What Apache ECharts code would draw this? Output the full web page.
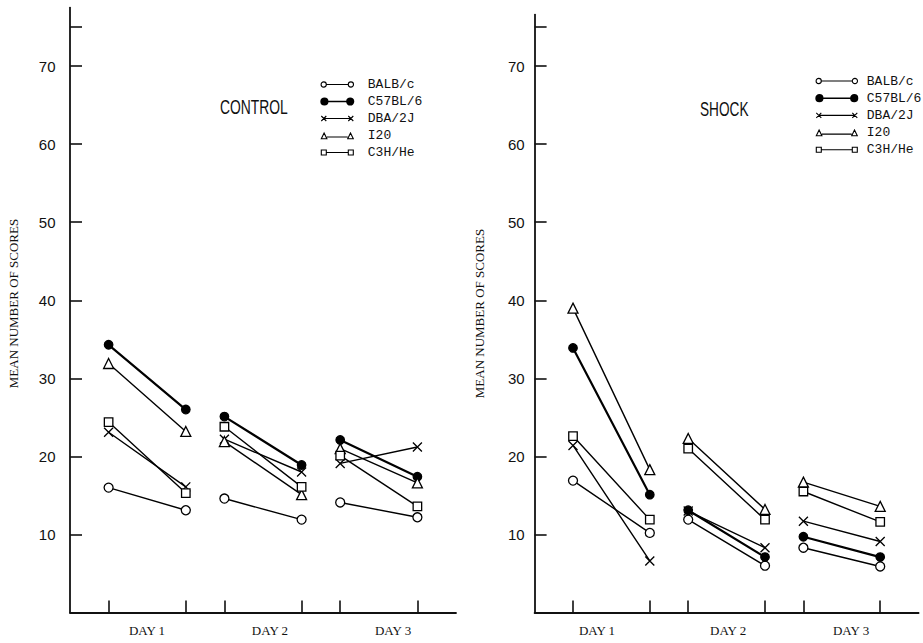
<!DOCTYPE html>
<html><head><meta charset="utf-8">
<script src="https://cdn.jsdelivr.net/npm/echarts@6/dist/echarts.min.js"></script>
<style>html,body{margin:0;padding:0;background:#fff}#c{width:923px;height:643px}</style>
</head><body><div id="c"></div>
<script>
// ---- data ----
const strains = ['BALB/c', 'C57BL/6', 'DBA/2J', 'I20', 'C3H/He'];
const sessions = [1, 3, 4, 6, 7, 9];            // day1 start/end, day2 start/end, day3 start/end
const dayLabels = ['DAY 1', 'DAY 2', 'DAY 3'];
const yTickLabels = [10, 20, 30, 40, 50, 60, 70];
const yTickMarks = [10, 20, 30, 40, 50, 60, 70, 75];
const panelTitles = ['CONTROL', 'SHOCK'];
const yTitle = 'MEAN NUMBER OF SCORES';

const controlBALB = [16.0, 13.1, 14.6, 11.9, 14.1, 12.2];
const controlC57  = [34.3, 26.0, 25.1, 18.9, 22.1, 17.4];
const controlDBA  = [23.1, 16.1, 22.2, 18.0, 19.1, 21.2];
const controlI20  = [31.9, 23.2, 21.9, 15.1, 21.0, 16.6];
const controlC3H  = [24.4, 15.3, 23.8, 16.1, 20.1, 13.6];

const shockBALB = [16.9, 10.2, 11.9, 6.0, 8.3, 5.9];
const shockC57  = [33.9, 15.1, 13.1, 7.1, 9.7, 7.1];
const shockDBA  = [21.4, 6.6, 13.0, 8.3, 11.7, 9.1];
const shockI20  = [39.0, 18.3, 22.3, 13.2, 16.7, 13.6];
const shockC3H  = [22.6, 11.9, 21.0, 11.9, 15.5, 11.6];

const controlData = [controlBALB, controlC57, controlDBA, controlI20, controlC3H];
const shockData = [shockBALB, shockC57, shockDBA, shockI20, shockC3H];

// ---- styles / layout ----
const INK = '#111';
const markStyle = [
  {symbol: 'circle', size: 9, fill: '#fff', lw: 1.4},
  {symbol: 'circle', size: 8.5, fill: '#000', lw: 2.2},
  {symbol: 'path://M0,0L10,10M0,10L10,0', size: 9, fill: 'transparent', lw: 1.4},
  {symbol: 'triangle', size: 10, fill: '#fff', lw: 1.4},
  {symbol: 'rect', size: 8.5, fill: '#fff', lw: 1.4}
];
const dayLabelPos = [[1.995, 5.18, 8.37], [1.625, 5.04, 8.24]];

function pairs(vals) {
  const d = [];
  for (let i = 0; i < vals.length; i++) {
    d.push([sessions[i], vals[i]]);
    if (i % 2 === 1 && i < vals.length - 1) d.push([(sessions[i] + sessions[i + 1]) / 2, '-']);
  }
  return d;
}

function iconPath(k, W) {
  const H = 8, c = 4;
  let p = `M0,0L0,0M${W},${H}L${W},${H}`;
  const circ = (cx, r) => `M${cx - r},${c}A${r},${r} 0 1,1 ${cx + r},${c}A${r},${r} 0 1,1 ${cx - r},${c}Z`;
  if (k === 0) { const r = 2.6; p += circ(r + 0.3, r) + `M${2 * r + 0.3},${c}L${W - 2 * r - 0.3},${c}` + circ(W - r - 0.3, r); }
  if (k === 1) { const r = 3.3; p += circ(r + 0.3, r) + `M${2 * r},${c}L${W - 2 * r},${c}` + circ(W - r - 0.3, r); }
  if (k === 2) { p += `M0.5,1.5L5.5,6.5M0.5,6.5L5.5,1.5M3,${c}L${W - 3},${c}M${W - 5.5},1.5L${W - 0.5},6.5M${W - 5.5},6.5L${W - 0.5},1.5`; }
  if (k === 3) { p += `M0.5,7.2L3.3,1.5L6.1,7.2ZM6.1,5.5L${W - 6.1},5.5M${W - 6.1},7.2L${W - 3.3},1.5L${W - 0.5},7.2Z`; }
  if (k === 4) { p += `M0.5,1.5L5.5,1.5L5.5,6.5L0.5,6.5ZM5.5,${c}L${W - 5.5},${c}M${W - 5.5},1.5L${W - 0.5},1.5L${W - 0.5},6.5L${W - 5.5},6.5Z`; }
  return 'path://' + p;
}

function legendCfg(left, top, W, gap, padL) {
  return {
    left, top, orient: 'vertical', padding: 0, itemWidth: W, itemHeight: 8, itemGap: gap,
    selectedMode: false, symbolKeepAspect: false,
    textStyle: {fontFamily: 'Liberation Mono', fontSize: 13, lineHeight: 14, color: INK, padding: [0, 0, 0, padL]},
    data: strains.map((s, i) => ({
      name: s, icon: iconPath(i, W),
      itemStyle: {color: i === 1 ? '#000' : 'transparent', borderColor: '#000', borderWidth: i === 1 ? 1.6 : 1.1}
    }))
  };
}

function xAxisCfg(g) {
  const pos = dayLabelPos[g];
  return {
    type: 'value', gridIndex: g, min: 0, max: 10,
    axisLine: {show: true, lineStyle: {color: INK, width: 1.8}},
    axisTick: {show: true, inside: true, length: 12, customValues: sessions, lineStyle: {color: INK, width: 1.6}},
    axisLabel: {
      customValues: pos, margin: 11, fontFamily: 'Liberation Serif', fontSize: 13, color: INK,
      formatter: v => {
        let best = 0;
        pos.forEach((p, i) => { if (Math.abs(p - v) < Math.abs(pos[best] - v)) best = i; });
        return dayLabels[best];
      }
    },
    splitLine: {show: false}
  };
}

function yAxisCfg(g, max, margin, nameGap, namePad) {
  return {
    type: 'value', gridIndex: g, min: 0, max,
    axisLine: {show: true, onZero: false, lineStyle: {color: INK, width: 1.8}},
    axisTick: {show: true, inside: true, length: 12, customValues: yTickMarks, lineStyle: {color: INK, width: 1.6}},
    axisLabel: {customValues: yTickLabels, margin, fontFamily: 'Liberation Sans', fontSize: 15, color: INK},
    splitLine: {show: false},
    name: yTitle, nameLocation: 'middle', nameRotate: 90, nameGap,
    nameTextStyle: {fontFamily: 'Liberation Serif', fontSize: 13, color: INK, padding: namePad}
  };
}

const series = [];
[controlData, shockData].forEach((panel, g) => {
  panel.forEach((vals, i) => {
    const st = markStyle[i];
    series.push({
      type: 'line', name: strains[i], xAxisIndex: g, yAxisIndex: g,
      data: pairs(vals), connectNulls: false, smooth: false, animation: false,
      symbol: st.symbol, symbolSize: st.size, showSymbol: true,
      itemStyle: {color: st.fill, borderColor: '#000', borderWidth: 1.3},
      lineStyle: {color: '#000', width: st.lw},
      emphasis: {disabled: true}, z: 2 + i
    });
  });
});

const chart = echarts.init(document.getElementById('c'), null, {renderer: 'svg'});
chart.setOption({
  backgroundColor: '#fff',
  animation: false,
  grid: [
    {left: 70, width: 386, top: 7.6, bottom: 30.5, outerBoundsMode: 'none', containLabel: false},
    {left: 534.6, width: 384, top: 14.6, bottom: 30.5, outerBoundsMode: 'none', containLabel: false}
  ],
  xAxis: [xAxisCfg(0), xAxisCfg(1)],
  yAxis: [yAxisCfg(0, 77.5, 14.5, 50, [0, 0, 0, 13]), yAxisCfg(1, 76.6, 10, 48.5, 0)],
  legend: [legendCfg(320, 77.5, 33, 3, 9), legendCfg(815, 74, 42, 3.2, 4)],
  graphic: [
    {type: 'text', x: 220, y: 107, scaleX: 0.66, style: {text: panelTitles[0], fontFamily: 'Liberation Sans', fontSize: 21, fill: INK, verticalAlign: 'middle'}},
    {type: 'text', x: 700, y: 109, scaleX: 0.65, style: {text: panelTitles[1], fontFamily: 'Liberation Sans', fontSize: 21, fill: INK, verticalAlign: 'middle'}}
  ],
  series
});
</script>
</body></html>
